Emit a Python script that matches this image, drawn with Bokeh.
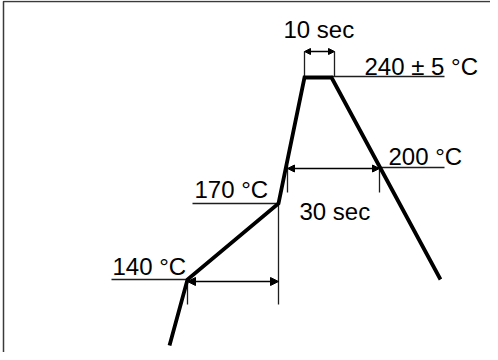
from bokeh.plotting import figure
from bokeh.models import Range1d, Arrow, NormalHead
from bokeh.core.properties import value
from bokeh.embed import file_html
from bokeh.resources import INLINE

# ---- schematic reflow profile (not to scale): time position vs. height level ----
profile_time = [169, 187, 278, 304, 331, 440]
profile_level = [7, 73, 149, 275, 275, 73]

# ---- temperature marker lines and labels ----
temp_labels = ["240 \u00b1 5 \u00b0C", "200 \u00b0C", "170 \u00b0C", "140 \u00b0C"]
temp_level = [276, 185, 149, 73]
temp_line_from = [331, 379, 192, 111]
temp_line_to = [444, 444, 278, 187]
temp_label_x = [364, 388, 194, 112]
temp_label_y = [286, 196, 163, 86]

# ---- duration brackets ----
dur_labels = ["10 sec", "30 sec"]
dur_label_x = [283, 299]
dur_label_y = [323, 141]
dur_from = [304, 287, 187]
dur_to = [334, 379, 278]
dur_level = [301, 184, 71]
dur_head = [6, 7, 8]

# extension (witness) lines of the brackets
ext_x = [304, 334, 287, 379, 187, 278]
ext_y0 = [276, 276, 187, 187, 73, 149]
ext_y1 = [301, 301, 160, 160, 48, 48]

FONT = value("Liberation Sans")
INK = "#000000"
THIN = "#1e1e1e"

p = figure(width=490, height=352, output_backend="svg", toolbar_location=None,
           x_range=Range1d(0, 490), y_range=Range1d(0, 352), min_border=0,
           outline_line_color=None, background_fill_color="white",
           border_fill_color="white")
p.xaxis.visible = False
p.yaxis.visible = False
p.grid.visible = False

# picture frame (only top and left edges are inside the window)
p.line(x=[3, 3, 520], y=[-20, 351, 351], line_color="#3a3a3a", line_width=1.5)

# temperature marker lines
p.segment(x0=temp_line_from, y0=temp_level, x1=temp_line_to, y1=temp_level,
          line_color=THIN, line_width=1.3)

# bracket extension lines
p.segment(x0=ext_x, y0=ext_y0, x1=ext_x, y1=ext_y1, line_color=THIN, line_width=1.3)

# bracket arrows
for xs, xe, yl, hs in zip(dur_from, dur_to, dur_level, dur_head):
    p.add_layout(Arrow(
        start=NormalHead(size=hs, fill_color=INK, line_color=INK, line_width=1),
        end=NormalHead(size=hs, fill_color=INK, line_color=INK, line_width=1),
        x_start=xs, y_start=yl, x_end=xe, y_end=yl,
        line_color=INK, line_width=1.3))

# profile
p.line(x=profile_time, y=profile_level, line_color=INK, line_width=3.8,
       line_join="miter", line_cap="butt")

# texts
p.text(x=temp_label_x, y=temp_label_y, text=temp_labels, text_font=FONT,
       text_font_size="24px", text_color=INK, text_baseline="alphabetic",
       text_align="left")
p.text(x=dur_label_x, y=dur_label_y, text=dur_labels, text_font=FONT,
       text_font_size="24px", text_color=INK, text_baseline="alphabetic",
       text_align="left")

open("out.html", "w").write(file_html(p, INLINE))
